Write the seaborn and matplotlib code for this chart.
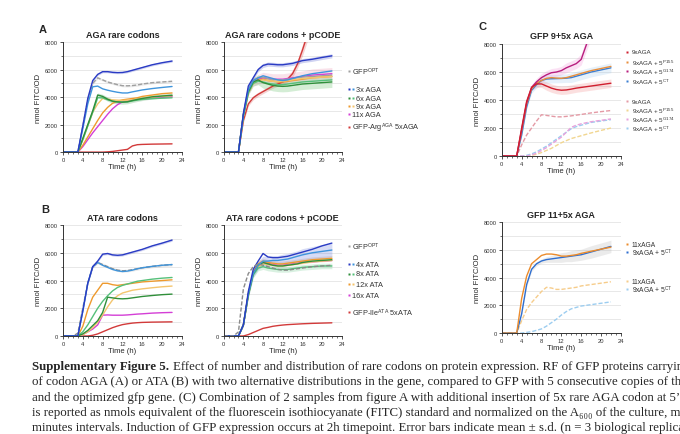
import numpy as np
import matplotlib
matplotlib.use("Agg")
import matplotlib.pyplot as plt
import seaborn as sns
from matplotlib.ticker import MultipleLocator

sns.set_style("ticks")
plt.rcParams['font.family'] = ['Liberation Sans', 'DejaVu Sans']
plt.rcParams['mathtext.default'] = 'regular'

nan = np.nan
hours = [0, 2, 3, 4, 5, 6, 7, 8, 9, 10, 11, 12, 13, 14, 15, 16, 18, 20, 22]

# ---- A: AGA rare codons
a_opt = [0, 0, 0, 1900, 3800, 5000, 5400, 5250, 5100, 5000, 4900, 4830, 4820, 4840, 4880, 4950, 5050, 5100, 5150]
a_3x_1 = [0, 0, 0, 1900, 3900, 5200, 5650, 5850, 5850, 5800, 5780, 5790, 5850, 5950, 6050, 6150, 6350, 6500, 6620]
a_3x_2 = [0, 0, 0, 1700, 3500, 4750, 4800, 4600, 4500, 4420, 4350, 4300, 4300, 4380, 4450, 4520, 4620, 4700, 4770]
a_6x_1 = [0, 0, 0, 1000, 2000, 3000, 4150, 4050, 3850, 3700, 3650, 3630, 3660, 3750, 3830, 3900, 4020, 4080, 4130]
a_6x_2 = [0, 0, 0, 900, 1900, 2900, 3950, 3950, 3800, 3700, 3650, 3640, 3650, 3720, 3780, 3830, 3880, 3920, 3950]
a_9x_1 = [0, 0, 0, 500, 1100, 1700, 2300, 2850, 3250, 3550, 3700, 3800, 3850, 3900, 3950, 4050, 4150, 4250, 4300]
a_9x_2 = [0, 0, 0, 900, 1900, 2900, 3500, 3900, 3850, 3800, 3780, 3760, 3780, 3800, 3850, 3900, 4000, 4050, 4100]
a_11x = [0, 0, 0, 400, 900, 1400, 1850, 2300, 2750, 3150, 3450, 3650, 3720, 3780, 3830, 3870, 3930, 3980, 4030]
a_ctrl = [0, 0, 0, 0, 0, 0, 0, 0, 20, 50, 100, 150, 200, 450, 540, 560, 580, 590, 600]
a_opt_sd = [0, 0, 0, 60, 80, 80, 80, 80, 80, 80, 80, 80, 80, 80, 80, 80, 80, 80, 80]
a_3x_1_sd = [0, 0, 0, 60, 80, 80, 80, 80, 80, 80, 80, 80, 80, 80, 80, 80, 80, 80, 80]
a_6x_1_sd = [0, 0, 0, 60, 80, 100, 150, 150, 150, 150, 150, 150, 150, 150, 150, 150, 150, 150, 150]

# ---- A2: AGA rare codons + pCODE
a2_opt = [0, 0, 0, 2800, 4600, 5200, 5400, 5450, 5350, 5250, 5250, 5250, 5300, 5350, 5400, 5450, 5500, 5550, 5600]
a2_3x_1 = [0, 0, 0, 2800, 4800, 5400, 6000, 6300, 6400, 6380, 6350, 6350, 6400, 6450, 6550, 6650, 6750, 6880, 7000]
a2_3x_2 = [0, 0, 0, 2700, 4500, 5200, 5400, 5550, 5450, 5350, 5250, 5200, 5250, 5350, 5450, 5550, 5700, 5800, 5900]
a2_6x_1 = [0, 0, 0, 2700, 4400, 5100, 5250, 5050, 4950, 4850, 4800, 4780, 4800, 4850, 4900, 4950, 5000, 5050, 5100]
a2_6x_2 = [0, 0, 0, 2600, 4300, 5000, 5150, 5100, 5000, 4950, 4900, 4900, 4950, 5000, 5050, 5100, 5150, 5200, 5250]
a2_9x_1 = [0, 0, 0, 2600, 4300, 5000, 5250, 5300, 5200, 5150, 5100, 5100, 5150, 5200, 5250, 5300, 5400, 5450, 5500]
a2_9x_2 = [0, 0, 0, 2600, 4300, 5000, 5200, 5250, 5200, 5150, 5150, 5150, 5200, 5250, 5300, 5350, 5400, 5450, 5500]
a2_11x = [0, 0, 0, 2700, 4400, 5100, 5300, 5400, 5350, 5300, 5300, 5300, 5350, 5400, 5450, 5500, 5600, 5650, 5700]
a2_ctrl = [0, 0, 0, 2300, 3500, 3950, 4200, 4400, 4600, 4800, 4950, 5100, 5300, 5700, 6400, 7400, 9600, nan, nan]
a2_3x_1_sd = [0, 0, 0, 100, 150, 150, 150, 150, 150, 150, 150, 150, 150, 150, 150, 150, 150, 150, 150]
a2_6x_1_sd = [0, 0, 0, 150, 250, 300, 350, 400, 400, 400, 400, 400, 400, 400, 400, 400, 400, 400, 400]
a2_11x_sd = [0, 0, 0, 150, 250, 300, 350, 400, 400, 400, 400, 400, 400, 400, 400, 400, 450, 450, 450]
a2_ctrl_sd = [0, 0, 0, 150, 150, 150, 150, 150, 150, 150, 150, 150, 200, 250, 300, 400, 500, nan, nan]

# ---- B: ATA rare codons
b_opt = [0, 0, 200, 2000, 3800, 5000, 5300, 5150, 5000, 4850, 4750, 4700, 4720, 4780, 4850, 4920, 5020, 5100, 5150]
b_4x_1 = [0, 0, 0, 1800, 3800, 5000, 5400, 5900, 5950, 5850, 5820, 5850, 5950, 6050, 6150, 6250, 6500, 6700, 6920]
b_4x_2 = [0, 0, 0, 1800, 3800, 5000, 5300, 5100, 4950, 4800, 4700, 4650, 4680, 4750, 4850, 4920, 5020, 5100, 5150]
b_8x_1 = [0, 0, 0, 150, 400, 750, 1100, 1700, 2800, 2750, 2700, 2680, 2700, 2750, 2800, 2850, 2920, 2980, 3020]
b_8x_2 = [0, 0, 0, 300, 800, 1400, 2000, 2500, 2900, 3250, 3500, 3650, 3750, 3850, 3950, 4000, 4100, 4170, 4220]
b_12x_1 = [0, 0, 0, 700, 1900, 2800, 3300, 3800, 3800, 3700, 3650, 3700, 3750, 3800, 3850, 3900, 3950, 4000, 4050]
b_12x_2 = [0, 0, 0, 100, 300, 600, 1000, 1500, 2100, 2600, 2900, 3100, 3200, 3300, 3350, 3400, 3480, 3550, 3600]
b_16x = [0, 0, 0, 100, 300, 500, 800, 1500, 1520, 1500, 1500, 1500, 1520, 1550, 1580, 1600, 1650, 1680, 1700]
b_ctrl = [0, 0, 0, 0, 0, 50, 150, 300, 450, 600, 720, 820, 880, 930, 960, 980, 1000, 1010, 1020]
b_opt_sd = [0, 0, 50, 80, 100, 100, 100, 100, 100, 100, 100, 100, 100, 100, 100, 100, 100, 100, 100]
b_4x_1_sd = [0, 0, 0, 60, 80, 80, 80, 80, 80, 80, 80, 80, 80, 80, 80, 80, 80, 80, 80]

# ---- B2: ATA rare codons + pCODE
b2_opt = [0, 0, 300, 3400, 4500, 5000, 5200, 5100, 5000, 4900, 4800, 4750, 4750, 4800, 4850, 4900, 5000, 5050, 5100]
b2_4x_1 = [0, 0, 0, 800, 3200, 4800, 5400, 5950, 5700, 5650, 5650, 5700, 5750, 5850, 5950, 6050, 6250, 6500, 6700]
b2_4x_2 = [0, 0, 0, 800, 3000, 4500, 5100, 5400, 5400, 5450, 5450, 5500, 5550, 5650, 5750, 5850, 6000, 6100, 6200]
b2_8x_1 = [0, 0, 0, 800, 3000, 4500, 5100, 5300, 5200, 5100, 5050, 5050, 5100, 5150, 5200, 5300, 5400, 5450, 5500]
b2_8x_2 = [0, 0, 0, 800, 2900, 4400, 4900, 5000, 4900, 4850, 4800, 4800, 4800, 4850, 4900, 4950, 5000, 5050, 5050]
b2_12x_1 = [0, 0, 0, 800, 3000, 4600, 5200, 5400, 5300, 5250, 5200, 5200, 5250, 5300, 5350, 5400, 5500, 5550, 5600]
b2_12x_2 = [0, 0, 0, 800, 2900, 4500, 5000, 5200, 5150, 5100, 5050, 5050, 5100, 5150, 5200, 5250, 5350, 5400, 5450]
b2_16x = [0, 0, 0, 800, 3000, 4600, 5100, 5300, 5250, 5150, 5100, 5100, 5150, 5200, 5250, 5300, 5350, 5400, 5450]
b2_ctrl = [0, 0, 0, 0, 100, 250, 400, 550, 620, 700, 750, 790, 820, 840, 860, 880, 910, 930, 950]
b2_4x_2_sd = [0, 0, 0, 100, 200, 250, 300, 350, 350, 350, 350, 400, 400, 400, 400, 450, 450, 500, 500]
b2_8x_2_sd = [0, 0, 0, 100, 150, 200, 200, 200, 200, 200, 200, 200, 200, 200, 200, 200, 200, 200, 200]
b2_12x_1_sd = [0, 0, 0, 100, 150, 200, 200, 200, 200, 200, 200, 200, 200, 200, 200, 200, 200, 200, 200]

# ---- C top: GFP 9+5x AGA
c1_9x = [0, 0, 0, 2000, 3900, 4900, 5150, 5150, 5000, 4850, 4750, 4700, 4720, 4780, 4850, 4900, 5000, 5100, 5200]
c1_p155 = [0, 0, 0, 1800, 3700, 4800, 5200, 5400, 5550, 5600, 5570, 5550, 5600, 5700, 5800, 5900, 6100, 6250, 6400]
c1_g174 = [0, 0, 0, 1900, 3800, 4900, 5300, 5600, 5800, 5950, 6000, 6100, 6300, 6450, 6600, 6900, 8900, nan, nan]
c1_ct = [0, 0, 0, 1500, 3500, 4700, 5100, 5400, 5500, 5520, 5530, 5540, 5560, 5600, 5700, 5800, 6000, 6150, 6300]
c1d_9x = [0, 0, 0, 800, 1500, 2000, 2500, 2950, 2900, 2850, 2800, 2800, 2830, 2870, 2920, 2970, 3080, 3170, 3250]
c1d_p155 = [0, 0, 0, 0, 0, 50, 120, 250, 400, 550, 750, 950, 1100, 1250, 1350, 1450, 1650, 1830, 2000]
c1d_g174 = [0, 0, 0, 0, 0, 80, 200, 400, 600, 850, 1100, 1350, 1700, 2050, 2200, 2300, 2450, 2550, 2650]
c1d_ct = [0, 0, 0, 0, 50, 150, 300, 500, 700, 950, 1200, 1450, 1700, 1950, 2100, 2200, 2400, 2500, 2600]
c1_9x_sd = [0, 0, 0, 100, 150, 200, 250, 250, 300, 300, 300, 300, 300, 300, 300, 300, 300, 300, 300]
c1_g174_sd = [0, 0, 0, 100, 150, 200, 250, 300, 300, 300, 300, 300, 350, 350, 350, 400, 500, nan, nan]
c1_ct_sd = [0, 0, 0, 100, 150, 200, 250, 300, 300, 300, 300, 300, 300, 350, 350, 350, 350, 350, 350]

# ---- C bottom: GFP 11+5x AGA
c2_11x = [0, 0, 0, 2500, 4100, 5000, 5300, 5600, 5700, 5700, 5650, 5550, 5550, 5600, 5650, 5750, 5900, 6050, 6200]
c2_ct = [0, 0, 0, 1400, 3500, 4600, 5000, 5200, 5300, 5350, 5400, 5450, 5500, 5550, 5600, 5650, 5850, 6050, 6250]
c2d_11x = [0, 0, 0, 900, 1700, 2200, 2600, 3000, 3300, 3250, 3150, 3150, 3200, 3250, 3300, 3400, 3500, 3600, 3700]
c2d_ct = [0, 0, 0, 0, 50, 100, 200, 300, 500, 750, 1000, 1300, 1550, 1750, 1850, 1950, 2050, 2150, 2250]
c2_ct_sd = [0, 0, 0, 100, 150, 150, 150, 150, 200, 250, 300, 350, 350, 400, 400, 400, 450, 450, 450]

# colours
DBLUE, LBLUE = '#2a3bc4', '#3f95dc'
GRAY = '#a0a0a0'
DGREEN, LGREEN = '#2f8f3a', '#55c07a'
ORANGE, LORANGE = '#ee9a2e', '#f4c56e'
MAGENTA, RED = '#d43fd6', '#d23a3a'
C_RED, C_ORANGE, C_PURPLE, C_BLUE = '#d01f2f', '#e98f3c', '#b81e7e', '#3b7ed2'
C_LRED, C_LYEL, C_LPINK, C_LSKY = '#e49aa5', '#f1d690', '#e8a2dc', '#9ccdf0'


def draw_curves(ax, curves):
    # curves: (values, colour, dashed, sd, band colour)
    for vals, color, dashed, sd, band in curves:
        if sd is not None:
            v = np.array(vals, float)
            s = np.array(sd, float)
            ax.fill_between(hours, v - s, v + s, color=band or color, alpha=0.22, lw=0)
    for vals, color, dashed, sd, band in curves:
        ls = (0, (3, 1.4)) if dashed else '-'
        sns.lineplot(x=hours, y=vals, ax=ax, color=color, lw=1.0, linestyle=ls)


def style_axes(ax, title):
    ax.set_xlim(0, 24)
    ax.set_ylim(0, 8000)
    ax.set_xticks(range(0, 25, 4))
    ax.set_yticks(range(0, 8001, 2000))
    ax.xaxis.set_minor_locator(MultipleLocator(1))
    ax.yaxis.set_minor_locator(MultipleLocator(1000))
    ax.grid(axis='y', which='both', color='#e4e4e4', lw=0.6)
    ax.set_axisbelow(True)
    ax.tick_params(which='major', labelsize=4.2, length=2, width=0.6, pad=1.5, colors='#333333')
    ax.tick_params(which='minor', length=1.2, width=0.5, colors='#333333')
    ax.set_title(title, fontsize=6.5, fontweight='bold', pad=4)
    ax.set_xlabel('Time (h)', fontsize=5.5, labelpad=1)
    ax.set_ylabel('nmol FITC/OD', fontsize=5.5, labelpad=2)
    sns.despine(ax=ax)
    for s in ['left', 'bottom']:
        ax.spines[s].set_linewidth(0.7)
        ax.spines[s].set_color('#333333')


def side_legend(ax, entries, ys, xm, dx, xt1, xt2, size):
    for (label, cols), y in zip(entries, ys):
        for i, c in enumerate(cols):
            ax.plot(xm + i * dx, y, 's', ms=2.0, color=c, mec='none',
                    transform=ax.transAxes, clip_on=False)
        xt = xt2 if len(cols) > 1 else xt1
        ax.text(xt, y, label, fontsize=size, va='center', ha='left',
                color='#333333', transform=ax.transAxes)


fig = plt.figure(figsize=(6.8, 4.35), dpi=100)
axA = fig.add_axes([0.0926, 0.648, 0.175, 0.253])
axA2 = fig.add_axes([0.329, 0.648, 0.1735, 0.253])
axC1 = fig.add_axes([0.738, 0.639, 0.175, 0.2575])
axB = fig.add_axes([0.0926, 0.2253, 0.175, 0.255])
axB2 = fig.add_axes([0.329, 0.2253, 0.1735, 0.255])
axC2 = fig.add_axes([0.738, 0.232, 0.175, 0.255])

draw_curves(axA, [
    (a_opt, GRAY, True, a_opt_sd, None),
    (a_ctrl, RED, False, None, None),
    (a_11x, MAGENTA, False, None, None),
    (a_9x_1, ORANGE, False, None, None),
    (a_9x_2, LORANGE, False, None, None),
    (a_6x_2, LGREEN, False, None, None),
    (a_6x_1, DGREEN, False, a_6x_1_sd, None),
    (a_3x_2, LBLUE, False, None, None),
    (a_3x_1, DBLUE, False, a_3x_1_sd, None),
])
style_axes(axA, 'AGA rare codons')

draw_curves(axA2, [
    (a2_ctrl, RED, False, a2_ctrl_sd, None),
    (a2_11x, MAGENTA, False, a2_11x_sd, '#e87fa0'),
    (a2_opt, GRAY, False, None, None),
    (a2_9x_1, ORANGE, False, None, None),
    (a2_9x_2, LORANGE, False, None, None),
    (a2_6x_2, LGREEN, False, None, None),
    (a2_6x_1, DGREEN, False, a2_6x_1_sd, '#3cb043'),
    (a2_3x_2, LBLUE, False, None, None),
    (a2_3x_1, DBLUE, False, a2_3x_1_sd, None),
])
style_axes(axA2, 'AGA rare codons + pCODE')
side_legend(axA2, [
    ('GFP$^{OPT}$', [GRAY]),
    ('3x AGA', [DBLUE, LBLUE]),
    ('6x AGA', [DGREEN, LGREEN]),
    ('9x AGA', [ORANGE, LORANGE]),
    ('11x AGA', [MAGENTA]),
    ('GFP-Arg$^{AGA}$ 5xAGA', [RED]),
], [0.736, 0.573, 0.491, 0.418, 0.345, 0.227], 1.059, 0.034, 1.085, 1.125, 5.3)

draw_curves(axB, [
    (b_opt, '#8a8a8a', True, b_opt_sd, GRAY),
    (b_ctrl, RED, False, None, None),
    (b_16x, MAGENTA, False, None, None),
    (b_12x_2, LORANGE, False, None, None),
    (b_12x_1, ORANGE, False, None, None),
    (b_8x_2, LGREEN, False, None, None),
    (b_8x_1, DGREEN, False, None, None),
    (b_4x_2, LBLUE, False, None, None),
    (b_4x_1, DBLUE, False, b_4x_1_sd, None),
])
style_axes(axB, 'ATA rare codons')

draw_curves(axB2, [
    (b2_ctrl, RED, False, None, None),
    (b2_16x, MAGENTA, False, None, None),
    (b2_12x_2, LORANGE, False, None, None),
    (b2_12x_1, ORANGE, False, b2_12x_1_sd, '#c98a4a'),
    (b2_8x_2, LGREEN, False, b2_8x_2_sd, None),
    (b2_8x_1, DGREEN, False, None, None),
    (b2_4x_2, LBLUE, False, b2_4x_2_sd, '#4a60d8'),
    (b2_4x_1, DBLUE, False, None, None),
    (b2_opt, '#8a8a8a', True, None, None),
])
style_axes(axB2, 'ATA rare codons + pCODE')
side_legend(axB2, [
    ('GFP$^{OPT}$', [GRAY]),
    ('4x ATA', [DBLUE, LBLUE]),
    ('8x ATA', [DGREEN, LGREEN]),
    ('12x ATA', [ORANGE, LORANGE]),
    ('16x ATA', [MAGENTA]),
    ('GFP-Ile$^{ATA}$ 5xATA', [RED]),
], [0.81, 0.649, 0.559, 0.468, 0.369, 0.216], 1.059, 0.034, 1.085, 1.125, 5.3)

draw_curves(axC1, [
    (c1d_p155, C_LYEL, True, None, None),
    (c1d_ct, C_LSKY, True, None, None),
    (c1d_g174, C_LPINK, True, None, None),
    (c1d_9x, C_LRED, True, None, None),
    (c1_ct, C_BLUE, False, c1_ct_sd, '#8ec0ea'),
    (c1_p155, C_ORANGE, False, None, None),
    (c1_g174, C_PURPLE, False, c1_g174_sd, '#f07ad0'),
    (c1_9x, C_RED, False, c1_9x_sd, '#f07070'),
])
style_axes(axC1, 'GFP 9+5x AGA')
side_legend(axC1, [
    ('9xAGA', [C_RED]),
    ('9xAGA + 5$^{P155}$', [C_ORANGE]),
    ('9xAGA + 5$^{G174}$', [C_PURPLE]),
    ('9xAGA + 5$^{CT}$', [C_BLUE]),
    ('9xAGA', [C_LRED]),
    ('9xAGA + 5$^{P155}$', [C_LYEL]),
    ('9xAGA + 5$^{G174}$', [C_LPINK]),
    ('9xAGA + 5$^{CT}$', [C_LSKY]),
], [0.929, 0.839, 0.759, 0.67, 0.491, 0.411, 0.33, 0.25], 1.05, 0.03, 1.09, 1.09, 4.5)

draw_curves(axC2, [
    (c2d_ct, C_LSKY, True, None, None),
    (c2d_11x, '#f6cc8a', True, None, None),
    (c2_ct, '#2f6fd0', False, c2_ct_sd, '#a8a8a8'),
    (c2_11x, '#ec8c2c', False, None, None),
])
style_axes(axC2, 'GFP 11+5x AGA')
side_legend(axC2, [
    ('11xAGA', ['#ec8c2c']),
    ('9xAGA + 5$^{CT}$', ['#2f6fd0']),
    ('11xAGA', ['#f6cc8a']),
    ('9xAGA + 5$^{CT}$', [C_LSKY]),
], [0.80, 0.73, 0.468, 0.396], 1.05, 0.03, 1.09, 1.09, 4.8)

# panel letters
for x, y, s in [(0.063, 0.932, 'A'), (0.066, 0.517, 'B'), (0.71, 0.938, 'C')]:
    fig.text(x, y, s, fontsize=8, fontweight='bold', va='center', ha='center')

# caption (cut at the right and bottom edge as in the source page)
serif = ['Liberation Serif', 'DejaVu Serif']
cap_size = 9.25
cap_x = 32 / 680
cap_y = [1 - 367 / 435, 1 - 382.3 / 435, 1 - 397.6 / 435, 1 - 413 / 435, 1 - 428.3 / 435]
cap_lines = [
    'Effect of number and distribution of rare codons on protein expression. RF of GFP proteins carrying',
    'of codon AGA (A) or ATA (B) with two alternative distributions in the gene, compared to GFP with 5 consecutive copies of the',
    'and the optimized gfp gene. (C) Combination of 2 samples from figure A with additional insertion of 5x rare AGA codon at 5\u2019. F',
    'is reported as nmols equivalent of the fluorescein isothiocyanate (FITC) standard and normalized on the A\u2086\u2080\u2080 of the culture, me',
    'minutes intervals. Induction of GFP expression occurs at 2h timepoint. Error bars indicate mean \u00b1 s.d. (n = 3 biological replicat',
]
fig.canvas.draw()
rend = fig.canvas.get_renderer()
bold = fig.text(cap_x, cap_y[0], 'Supplementary Figure 5.', family=serif,
                fontsize=cap_size, fontweight='bold', va='center')
bb = bold.get_window_extent(renderer=rend)
fig.text((bb.x1 + 3.5) / fig.bbox.width, cap_y[0], cap_lines[0], family=serif,
         fontsize=cap_size, va='center')
for line, y in zip(cap_lines[1:], cap_y[1:]):
    fig.text(cap_x, y, line, family=serif, fontsize=cap_size, va='center')

fig.savefig('out.png', dpi=100)
